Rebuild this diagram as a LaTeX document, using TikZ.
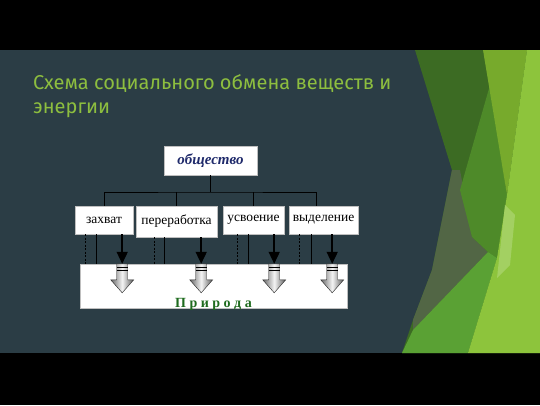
\documentclass[tikz,border=0pt]{standalone}
\usepackage{fontspec}
\setmainfont{Liberation Serif}
\newfontfamily\titlefont{Fira Sans}
\usepackage{tikz}
\usetikzlibrary{arrows.meta,shapes}
\definecolor{slate}{HTML}{2B3D45}
\definecolor{titlegreen}{HTML}{8DBE3F}
\definecolor{navy}{HTML}{1F2A6B}
\definecolor{naturegreen}{HTML}{1E6B1E}
\definecolor{leafdark}{HTML}{3C6B23}
\definecolor{leafmid}{HTML}{4E8A29}
\definecolor{leafbright}{HTML}{5AA134}
\definecolor{leafyellow}{HTML}{77AA2C}
\definecolor{leaflight}{HTML}{8DC43C}
\definecolor{leafpale}{HTML}{A3D062}
\definecolor{leafolive}{HTML}{526645}
\tikzset{
	box/.style={rectangle,draw=gray!50,fill=white,inner sep=2pt,font=\fontsize{13.5}{15}\selectfont},
	title/.style={align=left,inner sep=0pt,text=titlegreen,font=\titlefont\fontsize{20}{24}\selectfont},
	thinline/.style={draw=black,line width=0.6pt},
	dashline/.style={draw=black,line width=0.6pt,dash pattern=on 2pt off 1.5pt},
	downarrow/.style={arrows={-Triangle[length=12pt,width=11pt]},line width=1.6pt},
	grayarrow/.style={left color=gray!80!black,right color=gray!70!black,middle color=gray!8,draw=gray!30!black,line width=0.4pt}
	}
\begin{document}
\begin{tikzpicture}[x=1pt,y=-1pt]
      \useasboundingbox (0,0) rectangle (540,405);
      \fill[black] (0,0) rectangle (540,405);
      \fill[slate] (0,50) rectangle (540,353);
      \fill[leafdark] (415,50) -- (540,50) -- (540,353) -- (402,353) -- (413,320) -- (432,270) -- (452,170) -- cycle;
      \fill[leafolive] (452,170) -- (460,170) -- (472,237) -- (488,252) -- (413,330) -- (413,320) -- (432,270) -- cycle;
      \fill[leafmid] (490,85) -- (507,195) -- (497,258) -- (488,252) -- (472,237) -- (460,190) -- cycle;
      \fill[leafbright] (402,353) -- (413,330) -- (488,252) -- (497,258) -- (468,353) -- cycle;
      \fill[leafyellow] (483,50) -- (527,50) -- (507,195) -- cycle;
      \fill[leaflight] (527,50) -- (540,50) -- (540,353) -- (468,353) -- (497,258) -- (507,195) -- cycle;
      \fill[leafpale] (505,205) -- (515,215) -- (510,265) -- (497,278) -- cycle;
      \node[title,anchor=north west] (head) at (33,74) {Схема социального обмена веществ и\\энергии};
      \node[box,minimum width=93,minimum height=29,text=navy,font=\fontsize{15}{17}\selectfont\bfseries\itshape] (obsh) at (210.5,160.5) {общество};
      \node[box,minimum width=58,minimum height=28] (zahvat) at (104,220) {захват};
      \node[box,minimum width=81,minimum height=31] (pererab) at (176.5,221.5) {переработка};
      \node[box,minimum width=61,minimum height=28] (usvoen) at (253.5,220) {усвоение};
      \node[box,minimum width=69,minimum height=28] (vydel) at (323.5,220) {выделение};
      \node[box,minimum width=267,minimum height=44,label={[label distance=-13pt,text=naturegreen,font=\fontsize{14}{16}\selectfont\bfseries]south:П р и р о д а}] (priroda) at (213.5,286) {};
      \coordinate (bus) at (210.5,192);
      \draw[thinline] (obsh.south) -- (bus);
      \draw[thinline] (zahvat.north) |- (bus) -| ([xshift=-7]vydel.north);
      \draw[thinline] (pererab.north) -- (pererab.north |- bus);
      \draw[thinline] (usvoen.north) -- (usvoen.north |- bus);
      \foreach \b/\d/\s/\a in {zahvat/10/21/11,pererab/18/28/16,usvoen/14/25/10,vydel/10/22/26}{
        \draw[dashline] ([xshift=\d]\b.south west) -- ([xshift=\d]\b.south west |- priroda.north);
        \draw[thinline] ([xshift=\s]\b.south west) -- ([xshift=\s]\b.south west |- priroda.north);
        \coordinate (g) at ([xshift=-\a]\b.south east |- priroda.north);
        \shade[grayarrow] ([xshift=-5.5]g) -- ([xshift=5.5]g) -- ([shift={(5.5,16)}]g) -- ([shift={(11.5,16)}]g) -- ([shift={(0,29)}]g) -- ([shift={(-11.5,16)}]g) -- ([shift={(-5.5,16)}]g) -- cycle;
        \draw[line width=0.5pt] ([shift={(-5.5,3)}]g) -- ([shift={(5.5,3)}]g) ([shift={(-5.5,6)}]g) -- ([shift={(5.5,6)}]g);
        \draw[downarrow] ([xshift=-\a]\b.south east) -- (g);
      }
\end{tikzpicture}
\end{document}
